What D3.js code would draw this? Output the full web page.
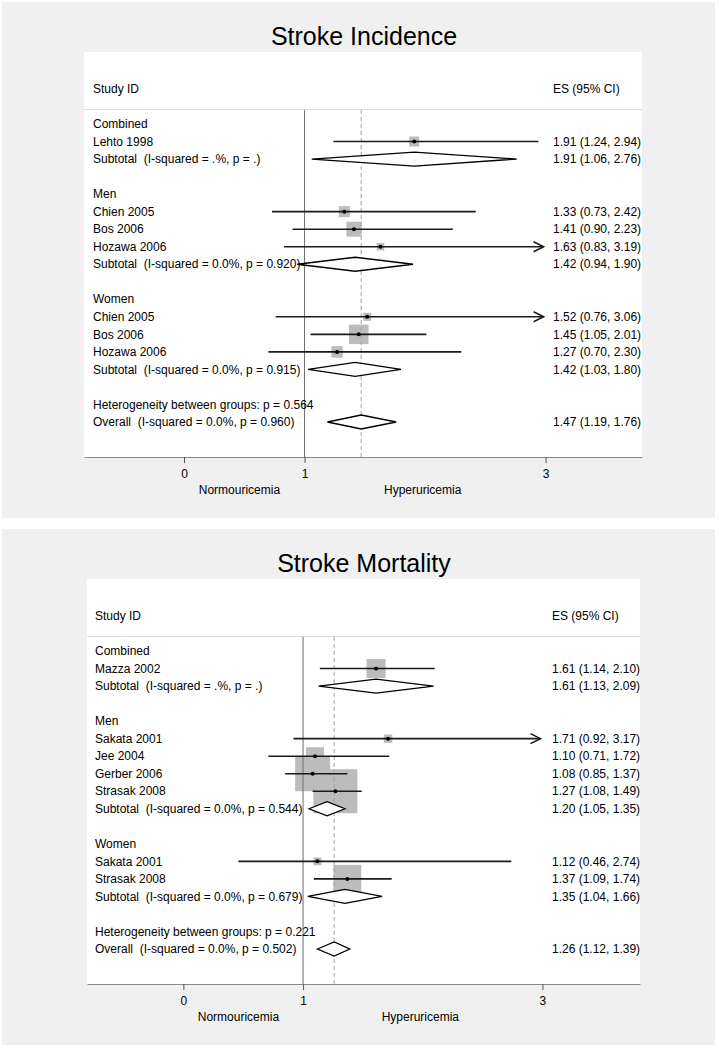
<!DOCTYPE html>
<html>
<head>
<meta charset="utf-8">
<script src="https://cdn.jsdelivr.net/npm/d3@7"></script>
<style>
  body { margin: 0; background: #fff; }
  text { font-family: "Liberation Sans", Arial, sans-serif; fill: #000; white-space: pre; }
</style>
</head>
<body>
<div id="plot"></div>
<script>
// Stroke incidence rows
const incKind = ['head', 'study', 'sub', 'blank', 'head', 'study', 'study', 'study', 'sub', 'blank',
  'head', 'study', 'study', 'study', 'sub', 'blank', 'note', 'sub'];
const incLabels = ['Combined', 'Lehto 1998', 'Subtotal  (I-squared = .%, p = .)', '',
  'Men', 'Chien 2005', 'Bos 2006', 'Hozawa 2006', 'Subtotal  (I-squared = 0.0%, p = 0.920)', '',
  'Women', 'Chien 2005', 'Bos 2006', 'Hozawa 2006', 'Subtotal  (I-squared = 0.0%, p = 0.915)', '',
  'Heterogeneity between groups: p = 0.564', 'Overall  (I-squared = 0.0%, p = 0.960)'];
const incES = [null, 1.91, 1.91, null, null, 1.33, 1.41, 1.63, 1.42, null, null, 1.52, 1.45, 1.27, 1.42, null, null, 1.47];
const incLow = [null, 1.24, 1.06, null, null, 0.73, 0.90, 0.83, 0.94, null, null, 0.76, 1.05, 0.70, 1.03, null, null, 1.19];
const incHigh = [null, 2.94, 2.76, null, null, 2.42, 2.23, 3.19, 1.90, null, null, 3.06, 2.01, 2.30, 1.80, null, null, 1.76];
const incWeight = [null, 9.3, null, null, null, 11.2, 20.9, 5.2, null, null, null, 5.9, 35.3, 12.2, null, null, null, null];

// Stroke mortality rows
const morKind = ['head', 'study', 'sub', 'blank', 'head', 'study', 'study', 'study', 'study', 'sub', 'blank',
  'head', 'study', 'study', 'sub', 'blank', 'note', 'sub'];
const morLabels = ['Combined', 'Mazza 2002', 'Subtotal  (I-squared = .%, p = .)', '',
  'Men', 'Sakata 2001', 'Jee 2004', 'Gerber 2006', 'Strasak 2008', 'Subtotal  (I-squared = 0.0%, p = 0.544)', '',
  'Women', 'Sakata 2001', 'Strasak 2008', 'Subtotal  (I-squared = 0.0%, p = 0.679)', '',
  'Heterogeneity between groups: p = 0.221', 'Overall  (I-squared = 0.0%, p = 0.502)'];
const morES = [null, 1.61, 1.61, null, null, 1.71, 1.10, 1.08, 1.27, 1.20, null, null, 1.12, 1.37, 1.35, null, null, 1.26];
const morLow = [null, 1.14, 1.13, null, null, 0.92, 0.71, 0.85, 1.08, 1.05, null, null, 0.46, 1.09, 1.04, null, null, 1.12];
const morHigh = [null, 2.10, 2.09, null, null, 3.17, 1.72, 1.37, 1.49, 1.35, null, null, 2.74, 1.74, 1.66, null, null, 1.39];
const morWeight = [null, 7.6, null, null, null, 1.5, 6.8, 25.7, 40.6, null, null, null, 1.3, 16.4, null, null, null, null];

const xTicks = [0, 1, 3];
const favourLabels = ['Normouricemia', 'Hyperuricemia'];

const W = 719, H = 1050;
const svg = d3.select('#plot').append('svg')
  .attr('width', W)
  .attr('height', H);

const fmt = d3.format('.2f');

function drawPanel(top, title, kind, labels, es, low, high, weight, opt) {
  const g = svg.append('g').attr('transform', `translate(0,${top})`);

  // grey graph region + white plot region
  g.append('rect').attr('x', 2).attr('y', 2).attr('width', 713).attr('height', 516).attr('fill', '#f0f0f0');
  g.append('rect').attr('x', opt.left).attr('y', 52).attr('width', opt.right - opt.left).attr('height', 405).attr('fill', '#fff');

  g.append('text')
    .attr('x', 364).attr('y', 45)
    .attr('text-anchor', 'middle')
    .attr('font-size', 25)
    .text(title);

  const x = d3.scaleLinear().domain(opt.domain).range([opt.left, opt.right]);
  const y = d3.scaleLinear().domain([0, 17]).range([124, 422]);
  const box = d3.scaleSqrt().domain([0, d3.max(weight)]).range([0, opt.boxMax]);
  const rows = d3.range(labels.length);
  const xMax = d3.max(xTicks);

  // header
  g.append('text').attr('x', opt.textX).attr('y', 89).attr('dy', '0.35em').attr('font-size', 12).text('Study ID');
  g.append('text').attr('x', opt.valX).attr('y', 89).attr('dy', '0.35em').attr('font-size', 12).text('ES (95% CI)');
  g.append('line')
    .attr('x1', opt.left).attr('x2', opt.right)
    .attr('y1', 109.5).attr('y2', 109.5)
    .attr('stroke', '#dcdcdc');

  // weight boxes
  g.selectAll('rect.box')
    .data(rows.filter(i => kind[i] === 'study'))
    .join('rect')
    .attr('class', 'box')
    .attr('x', i => x(es[i]) - box(weight[i]) / 2)
    .attr('y', i => y(i) - box(weight[i]) / 2)
    .attr('width', i => box(weight[i]))
    .attr('height', i => box(weight[i]))
    .attr('fill', '#bcbcbc');

  // null line and overall effect line
  g.append('line')
    .attr('x1', x(1)).attr('x2', x(1))
    .attr('y1', 110).attr('y2', 457)
    .attr('stroke', '#6e6e6e');
  g.append('line')
    .attr('x1', x(es[17])).attr('x2', x(es[17]))
    .attr('y1', 110).attr('y2', 457)
    .attr('stroke', '#a0a0a0')
    .attr('stroke-dasharray', '4 3');

  // confidence intervals
  const studies = rows.filter(i => kind[i] === 'study');
  g.selectAll('line.ci')
    .data(studies)
    .join('line')
    .attr('class', 'ci')
    .attr('x1', i => x(low[i]))
    .attr('x2', i => high[i] > xMax ? x(xMax) - 2 : x(high[i]))
    .attr('y1', i => y(i)).attr('y2', i => y(i))
    .attr('stroke', '#1a1a1a')
    .attr('stroke-width', 1.6);

  // arrows for truncated intervals
  g.selectAll('path.arrow')
    .data(studies.filter(i => high[i] > xMax))
    .join('path')
    .attr('class', 'arrow')
    .attr('d', i => {
      const tx = x(xMax) - 2, ty = y(i);
      return `M${tx - 10},${ty - 5}L${tx},${ty}L${tx - 10},${ty + 5}`;
    })
    .attr('fill', 'none')
    .attr('stroke', '#1a1a1a')
    .attr('stroke-width', 1.6);

  g.selectAll('circle.pt')
    .data(studies)
    .join('circle')
    .attr('class', 'pt')
    .attr('cx', i => x(es[i]))
    .attr('cy', i => y(i))
    .attr('r', 2)
    .attr('fill', '#000');

  // pooled diamonds
  g.selectAll('path.diamond')
    .data(rows.filter(i => kind[i] === 'sub'))
    .join('path')
    .attr('class', 'diamond')
    .attr('d', i => `M${x(low[i])},${y(i)}L${x(es[i])},${y(i) - 7}L${x(high[i])},${y(i)}L${x(es[i])},${y(i) + 7}Z`)
    .attr('fill', '#fff')
    .attr('stroke', '#000')
    .attr('stroke-width', 1.3);

  // row labels and estimates
  g.selectAll('text.lab')
    .data(rows.filter(i => kind[i] !== 'blank'))
    .join('text')
    .attr('class', 'lab')
    .attr('x', opt.textX)
    .attr('y', i => y(i))
    .attr('dy', '0.35em')
    .attr('font-size', 12)
    .text(i => labels[i]);

  g.selectAll('text.val')
    .data(rows.filter(i => es[i] != null))
    .join('text')
    .attr('class', 'val')
    .attr('x', opt.valX)
    .attr('y', i => y(i))
    .attr('dy', '0.35em')
    .attr('font-size', 12)
    .text(i => `${fmt(es[i])} (${fmt(low[i])}, ${fmt(high[i])})`);

  // x axis
  const axis = g.append('g')
    .attr('transform', 'translate(0,457)')
    .call(d3.axisBottom(x).tickValues(xTicks).tickFormat(d3.format('d')).tickSize(6).tickSizeOuter(0).tickPadding(6));
  axis.select('.domain').attr('stroke', '#8a8a8a');
  axis.selectAll('.tick line').attr('stroke', '#555');
  axis.selectAll('.tick text')
    .attr('font-size', 12)
    .attr('font-family', '"Liberation Sans", Arial, sans-serif')
    .attr('fill', '#000');

  g.selectAll('text.fav')
    .data(favourLabels)
    .join('text')
    .attr('class', 'fav')
    .attr('x', (d, i) => x([0.46, 1.98][i]))
    .attr('y', 490)
    .attr('dy', '0.35em')
    .attr('text-anchor', 'middle')
    .attr('font-size', 12)
    .text(d => d);
}

drawPanel(0, 'Stroke Incidence', incKind, incLabels, incES, incLow, incHigh, incWeight,
  { left: 84, right: 642, domain: [-0.83, 3.8], textX: 93, valX: 553, boxMax: 19.5 });
drawPanel(527, 'Stroke Mortality', morKind, morLabels, morES, morLow, morHigh, morWeight,
  { left: 87, right: 640, domain: [-0.805, 3.815], textX: 95, valX: 552, boxMax: 44 });
</script>
</body>
</html>
